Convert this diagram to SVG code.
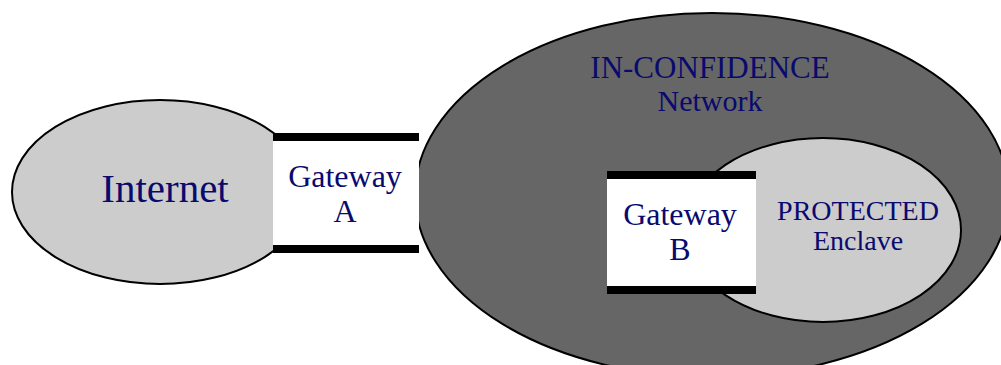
<svg xmlns="http://www.w3.org/2000/svg" width="1001" height="365" viewBox="0 0 1001 365">
<style>
.t{font-family:"Liberation Serif","Times New Roman",serif;fill:#0a0a6e;text-anchor:middle}
.e{stroke:#000;stroke-width:2}
.bar{fill:#000}
</style>
<rect width="1001" height="365" fill="#fff"/>
<g id="internet">
<ellipse class="e" cx="160" cy="192" rx="148" ry="92" fill="#cccccc"/>
<text class="t" x="165" y="202" font-size="41">Internet</text>
</g>
<g id="inconfidence">
<ellipse class="e" cx="712" cy="195" rx="297" ry="182" fill="#666666"/>
<text class="t" x="710" y="78" font-size="31">IN-CONFIDENCE</text>
<text class="t" x="710" y="111" font-size="30">Network</text>
</g>
<g id="protected">
<ellipse class="e" cx="823" cy="230" rx="138" ry="92" fill="#cccccc"/>
<text class="t" x="858" y="220" font-size="28">PROTECTED</text>
<text class="t" x="858" y="250" font-size="28">Enclave</text>
</g>
<g id="gatewayA">
<rect x="273" y="137" width="146" height="112" fill="#fff"/>
<rect class="bar" x="273" y="133" width="146" height="8"/>
<rect class="bar" x="273" y="245" width="146" height="8"/>
<text class="t" x="345" y="187" font-size="32">Gateway</text>
<text class="t" x="345" y="222" font-size="32">A</text>
</g>
<g id="gatewayB">
<rect x="607" y="175" width="149" height="115" fill="#fff"/>
<rect class="bar" x="607" y="171" width="149" height="8"/>
<rect class="bar" x="607" y="286" width="149" height="8"/>
<text class="t" x="680" y="225" font-size="32">Gateway</text>
<text class="t" x="680" y="260" font-size="32">B</text>
</g>
<g id="connectors"></g>
</svg>
